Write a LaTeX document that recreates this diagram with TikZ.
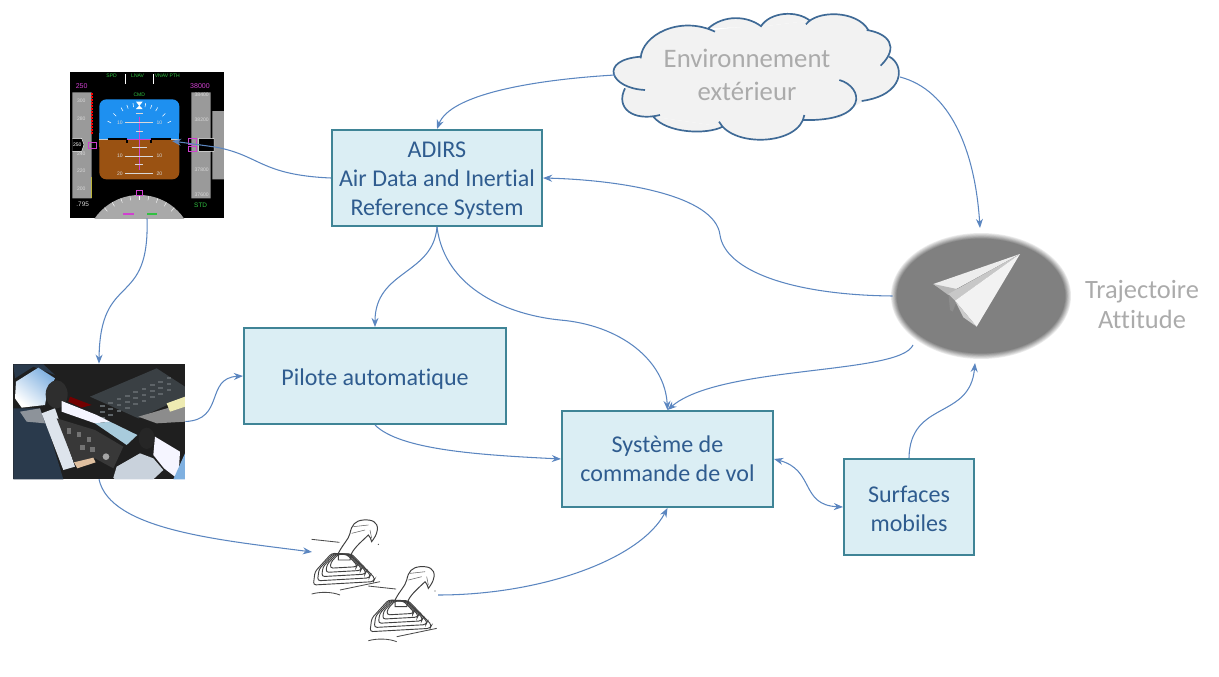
\documentclass[tikz,border=0pt]{standalone}
\usepackage{fontspec}
\setmainfont[Ligatures=NoCommon]{Carlito}
\newfontfamily\pfdfont{Liberation Sans}
\usetikzlibrary{shapes.geometric,arrows.meta}
\definecolor{boxfill}{HTML}{DBEEF4}
\definecolor{boxline}{HTML}{3F8496}
\definecolor{boxtext}{HTML}{2F5C8F}
\definecolor{linkblue}{HTML}{5B86C0}
\definecolor{cloudline}{HTML}{3F6A96}
\definecolor{cloudfill}{HTML}{F2F2F2}
\definecolor{softgray}{HTML}{ABABAB}
\definecolor{pfdgray}{HTML}{9A9A9A}
\definecolor{pfdsky}{HTML}{1E90F0}
\definecolor{pfdearth}{HTML}{9A5212}
\definecolor{pfdmag}{HTML}{D040D0}
\definecolor{pfdgreen}{HTML}{30C040}
\definecolor{shirtlight}{HTML}{C9D2DC}
\definecolor{shirtpale}{HTML}{DDE4EC}
\definecolor{cabin}{HTML}{3A4044}
\definecolor{cabinkey}{HTML}{5E6468}
\definecolor{seatblue}{HTML}{2A3A4C}
\definecolor{skyblue}{HTML}{7FB0E0}
\definecolor{seablue}{HTML}{A8CBDC}
\newcommand{\bloctext}[2]{\raisebox{-#1}[0pt][0pt]{\begin{tabular}{@{}c@{}}#2\end{tabular}}}
\tikzset{
	bloc/.style={draw=boxline,fill=boxfill,line width=1.4pt,text=boxtext,inner sep=0pt,font=\fontsize{17.1}{20.6}\selectfont},
	softlabel/.style={text=softgray,align=center,inner sep=0pt},
	link/.style={->,draw=linkblue,line width=0.75pt},
	tinyg/.style={text=pfdgreen,font=\pfdfont\fontsize{3.6}{4}\selectfont,inner sep=0pt},
	tinym/.style={text=pfdmag,font=\pfdfont\fontsize{5}{5}\selectfont,inner sep=0pt},
	tinyw/.style={text=white!85!black,font=\pfdfont\fontsize{3.6}{4}\selectfont,inner sep=0pt},
	stick/.pic={
		\draw[black!75,line width=0.7pt,fill=white] (115,130)..controls (130,100) and (145,90)..(150,70)..controls (155,45) and (165,32)..(190,30)..controls (215,28) and (235,35)..(232,60)..controls (230,75) and (222,85)..(215,95)..controls (212,85) and (210,80)..(205,75)..controls (190,90) and (165,110)..(155,130)--(150,150)--(115,150)--cycle;
		\draw[black!60,line width=0.4pt] (160,50)--(205,45) (155,70)--(195,60) (210,60)--(215,85);
		\foreach \s in {1,0.86,0.72,0.58,0.44}
			\draw[black!75,line width=0.65pt,rounded corners=2pt,shift={(130,135)},scale=\s] (-90,90)--(-85,50)--(-35,-5)--(25,-3)--(95,70)--(90,80)--cycle;
		\draw[black!70,line width=0.6pt] (35,88)--(118,97) (35,252)..controls (60,245) and (95,245)..(120,255) (120,240)--(240,215);
		\fill[black!70] (235,103) circle (2);
	},
}
\begin{document}
\begin{tikzpicture}[x=0.025cm,y=-0.025cm,>={Stealth[length=6.5pt,width=5pt]}]
	\useasboundingbox (0,0) rectangle (1219,677);
	% boites
	\node[bloc,minimum width=5.25cm,minimum height=2.4cm] (adirs) at (437,178) {\bloctext{6.4pt}{ADIRS\\Air Data and Inertial\\Reference System}};
	\node[bloc,minimum width=6.55cm,minimum height=2.4cm] (pilote) at (375,376) {\bloctext{7pt}{Pilote automatique}};
	\node[bloc,minimum width=5.275cm,minimum height=2.4cm] (commande) at (667.5,459) {\bloctext{6pt}{Système de\\commande de vol}};
	\node[bloc,minimum width=3.25cm,minimum height=2.4cm] (surfaces) at (909,507) {\bloctext{7pt}{Surfaces\\mobiles}};
	% nuage
	\begin{scope}[shift={(600,5)},scale=1/3]
		\fill[cloudfill] (480,210) ellipse (370 and 145);
		\fill[cloudfill] (122,155)--(345,80)--(485,65)--(630,47)--(805,75)--(842,182)--(868,155)--(785,288)--(720,340)--(613,345)--(368,365)--(160,335)--(75,250)--cycle;
		\filldraw[fill=cloudfill,draw=cloudline,line width=1.2pt] (122,160)..controls (125,90) and (240,30)..(345,80) (325,70)..controls (370,30) and (440,30)..(485,65) (482,65)..controls (510,20) and (590,15)..(630,47) (618,58)..controls (650,15) and (770,15)..(805,75) (800,75)..controls (865,85) and (900,125)..(842,182) (868,155)..controls (915,180) and (915,270)..(785,288) (718,225)..controls (790,245) and (810,350)..(610,345) (613,330)..controls (600,420) and (400,430)..(357,350) (368,365)..controls (320,390) and (200,385)..(160,335) (180,330)..controls (100,350) and (45,310)..(75,250) (135,255)..controls (30,250) and (-5,165)..(122,155);
	\end{scope}
	\node[softlabel,font=\fontsize{19}{23.4}\selectfont] (cloud) at (747,75) {Environnement\\extérieur};
	% avion
	\foreach \i in {0,1,...,7}
		\fill[black!\the\numexpr 8+\i*6\relax] (981,296) ellipse ({90-\i*0.8} and {63-\i*0.8});
	\node[ellipse,minimum width=4.4cm,minimum height=3.05cm,inner sep=0pt] (plane) at (981,296) {};
	\begin{scope}[shift={(880,230)},scale=1/3]
		\fill[white!55!black] (205,190)--(230,215)--(218,245)--(210,240)--cycle;
		\fill[white!93!black] (160,162)--(420,72)--(205,190)--cycle;
		\fill[white!72!black] (160,162)--(235,178)--(205,195)--cycle;
		\fill[white!78!black] (420,72)--(225,212)--(205,192)--cycle;
		\fill[white!95!black] (420,72)--(290,290)--(225,212)--cycle;
		\fill[white!80!black] (225,212)--(290,290)--(250,262)--cycle;
	\end{scope}
	\node[softlabel,font=\fontsize{18.8}{22}\selectfont] (traj) at (1142,304.5) {Trajectoire\\Attitude};
	% ecran de vol
	\node[minimum width=3.85cm,minimum height=3.65cm,inner sep=0pt,fill=black] (pfd) at (147,145) {};
	\begin{scope}[shift={(60,60)},scale=1/3]
		\begin{scope}
			\clip (30,37) rectangle (492,475);
			\fill[pfdgray!85!white] (238,568) circle (163);
			\foreach \a in {-40,-30,...,40}
				\draw[white,line width=0.3pt] (238,568)++(270+\a:163)--++(270+\a:-14);
			\fill[pfdmag] (190,458) rectangle (222,466);
			\fill[pfdgreen] (262,458) rectangle (290,466);
		\end{scope}
		\fill[pfdgray] (37,97) rectangle (95,415) (394,97) rectangle (452,415) (457,153) rectangle (492,358);
		\fill[pfdsky,rounded corners=5pt] (118,118)--(358,118)--(358,238)--(118,238)--cycle;
		\fill[pfdearth,rounded corners=5pt] (118,240)--(358,240)--(358,358)--(118,358)--cycle;
		\fill[pfdsky] (118,220) rectangle (358,238);
		\fill[pfdearth] (118,240) rectangle (358,260);
		\draw[white!80!black,line width=0.6pt] (118,238)--(358,238);
		\draw[black,line width=1.4pt] (143,238)--(200,238) (272,238)--(332,238) (200,238)--(200,248) (272,238)--(272,248);
		\draw[pfdmag,line width=0.8pt] (200,238)--(272,238) (238,170)--(238,330);
		\foreach \y/\w in {187/42,288/42,340/42,213/10,263/22,313/12,160/10}
			\draw[white!85!black,line width=0.4pt] (238-\w,\y)--(238+\w,\y);
		\foreach \a in {-60,-45,-30,-20,-10,10,20,30,45,60}
			\draw[white,line width=0.4pt] (238,238)++(270+\a:110)--++(270+\a:-12);
		\fill[white] (228,125)--(248,125)--(238,138)--cycle (228,147)--(248,147)--(238,136)--cycle;
		\draw[pfdmag,line width=0.5pt] (85,248) rectangle (108,264) (384,235) rectangle (410,252) (384,258) rectangle (410,275) (228,390) rectangle (246,405);
		\fill[black] (37,235)--(65,235)--(72,254)--(65,274)--(37,274)--cycle (416,235) rectangle (462,274);
		\draw[white,line width=0.3pt] (37,235)--(65,235)--(72,254)--(65,274)--(37,274) (416,235) rectangle (462,274);
		\draw[red,line width=1.2pt,dash pattern=on 1.5pt off 0.6pt] (95,100)--(95,222);
		\draw[yellow!70!black,line width=0.5pt] (95,352)--(95,415);
		\draw[white,line width=0.4pt] (196,42)--(196,72) (280,42)--(280,72);
		\foreach \y/\t in {122/300,175/280,282/240,333/220,385/200}
			\node[tinyw] (lt\t) at (64,\y) {\t};
		\foreach \y/\t in {105/38400,178/38200,330/37800,405/37600}
			\node[tinyw] (rt\t) at (425,\y) {\t};
		\node[tinyg] (spd) at (155,48) {SPD};
		\node[tinyg] (lnav) at (233,48) {LNAV};
		\node[tinyg] (vnav) at (322,48) {VNAV PTH};
		\node[tinyg] (cmd) at (238,105) {CMD};
		\node[tinym] (speed) at (65,78) {250};
		\node[tinym] (alti) at (420,78) {38000};
		\node[tinyw,font=\pfdfont\fontsize{4.6}{5}\selectfont] (mach) at (68,432) {.795};
		\node[tinyg,font=\pfdfont\fontsize{4.6}{5}\selectfont] (std) at (422,435) {STD};
		\foreach \x/\y/\t in {180/187/10,298/187/10,180/288/10,298/288/10,180/340/20,298/340/20}
			\node[tinyw] (n\x\y) at (\x,\y) {\t};
		\node[tinyw,text=white] (vit) at (52,254) {250};
	\end{scope}
	% cockpit
	\node[minimum width=4.3cm,minimum height=2.875cm,inner sep=0pt,fill=black!88] (cockpit) at (99,421.5) {};
	\begin{scope}[shift={(0,355)},scale=1/3]
		\clip (40,28) rectangle (555,373);
		\fill[cabin] (270,125)--(470,40)--(555,95)--(555,125)--(415,190)--cycle;
		\foreach \x in {300,325,...,500}
			\foreach \y in {0,18,36}
				\fill[cabinkey] (\x,{150-(\x-300)*0.42+\y}) rectangle ++(14,6);
		\fill[seatblue] (40,28)--(130,28)--(165,60)--(100,35)--(45,70)--cycle;
		\shade[top color=skyblue,bottom color=white,shading angle=-40] (45,130)--(48,80)--(115,38)--(165,70)--(140,120)--(135,150)--(65,158)--cycle;
		\fill[black!82] (170,118) ellipse (33 and 42);
		\fill[white!96!blue] (185,138)--(290,180)--(330,200)--(285,205)--(185,170)--cycle;
		\fill[seablue] (285,205)--(330,200)--(412,240)--(380,270)--cycle;
		\fill[red!45!black] (210,125)--(275,150)--(245,158)--(205,140)--cycle;
		\fill[seatblue] (40,160)--(120,160)--(150,240)--(190,373)--(40,373)--cycle;
		\fill[shirtlight!70!black] (60,170)--(120,160)--(135,205)--(80,200)--cycle;
		\fill[shirtpale] (125,175)--(165,160)--(225,335)--(190,345)--(150,240)--cycle;
		\fill[black!78] (170,190)--(285,225)--(370,275)--(340,340)--(285,310)--(225,330)--cycle;
		\foreach \x/\y in {200/220,230/230,260/245,240/270,270/275}
			\fill[black!55] (\x,\y) rectangle ++(14,16);
		\fill[brown!50!white] (222,322)--(280,308)--(287,322)--(232,340)--cycle;
		\fill[white!65!black] (318,305) circle (10);
		\fill[black!85] (440,250) ellipse (24 and 32);
		\fill[shirtlight] (340,368)--(350,335)--(420,295)--(460,310)--(490,345)--(460,373)--(345,373)--cycle;
		\fill[white!96!blue] (465,245)--(540,290)--(535,373)--(492,340)--(460,300)--cycle;
		\fill[skyblue] (520,373)--(555,295)--(555,373)--cycle;
		\fill[white!55!black] (415,185)--(500,160)--(555,150)--(555,200)--(470,205)--cycle;
		\fill[white!70!yellow!85!gray] (500,145)--(555,125)--(555,155)--(510,170)--cycle;
	\end{scope}
	% manches
	\pic[scale=1/3] (stickone) at (300,510) {stick};
	\pic[scale=1/3] (sticktwo) at (356.7,556.7) {stick};
	\coordinate (cloudw) at (615,75);
	\coordinate (cloude) at (900,77);
	\coordinate (planetop) at (980,228);
	\coordinate (planelow) at (913,345);
	\coordinate (planebot) at (975,363);
	\coordinate (pfdtip) at (172,141);
	\coordinate (pfdedge) at (215,147);
	\coordinate (stickin) at (312,552);
	\coordinate (stickout) at (438,595);
	% liaisons
	\draw[link] (cloudw)..controls (530,80) and (450,95)..(adirs.north);
	\draw[link] (cloude)..controls (950,90) and (975,150)..(planetop);
	\draw[link] (plane.west)..controls (790,295) and (725,270)..(720,235)..controls (715,195) and (620,180)..(adirs.east);
	\draw[link] (planelow)..controls (900,375) and (720,365)..(commande.north);
	\draw[link] (adirs.south)..controls (445,290) and (510,315)..(560,320)..controls (620,325) and (665,360)..(commande.north);
	\draw[link] (adirs.south)..controls (433,275) and (375,270)..(pilote.north);
	\draw[link] (pilote.south)..controls (400,450) and (480,455)..(commande.west);
	\draw[link] (adirs.west)..controls (260,175) and (260,155)..(pfdedge)--(pfdtip);
	\draw[link] (pfd.south)..controls (150,310) and (100,270)..(cockpit.north);
	\draw[link] (cockpit.east)..controls (225,420) and (205,378)..(pilote.west);
	\draw[link] (cockpit.south)..controls (110,530) and (220,540)..(stickin);
	\draw[link] (stickout)..controls (540,595) and (640,560)..(commande.south);
	\draw[link,<->] (commande.east)..controls (815,470) and (800,505)..(surfaces.west);
	\draw[link] (surfaces.north)..controls (910,400) and (970,420)..(planebot);
\end{tikzpicture}
\end{document}
